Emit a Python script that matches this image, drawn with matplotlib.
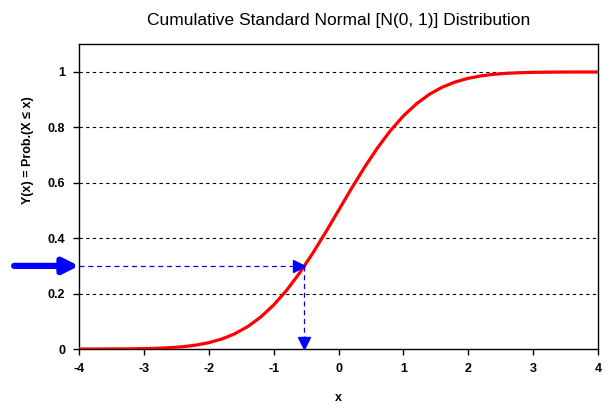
import matplotlib
matplotlib.use("Agg")
import matplotlib.pyplot as plt
from matplotlib.transforms import offset_copy

# values
x_vals = [-4.0, -3.8, -3.6, -3.4, -3.2, -3.0, -2.8, -2.6, -2.4, -2.2,
          -2.0, -1.8, -1.6, -1.4, -1.2, -1.0, -0.8, -0.6, -0.4, -0.2,
          0.0, 0.2, 0.4, 0.6, 0.8, 1.0, 1.2, 1.4, 1.6, 1.8,
          2.0, 2.2, 2.4, 2.6, 2.8, 3.0, 3.2, 3.4, 3.6, 3.8, 4.0]
y_vals = [0.00003, 0.00007, 0.00016, 0.00034, 0.00069, 0.00135, 0.00256, 0.00466, 0.0082, 0.0139,
          0.0228, 0.0359, 0.0548, 0.0808, 0.1151, 0.1587, 0.2119, 0.2743, 0.3446, 0.4207,
          0.5, 0.5793, 0.6554, 0.7257, 0.7881, 0.8413, 0.8849, 0.9192, 0.9452, 0.9641,
          0.9772, 0.9861, 0.9918, 0.9953, 0.9974, 0.99865, 0.99931, 0.99966, 0.99984, 0.99993, 0.99997]

# the marked probability and its quantile
p_mark = 0.3
x_mark = -0.5244

x_ticks = [-4, -3, -2, -1, 0, 1, 2, 3, 4]
y_ticks = [0, 0.2, 0.4, 0.6, 0.8, 1]
y_tick_labels = ["0", "0.2", "0.4", "0.6", "0.8", "1"]

plt.rcParams['font.family'] = ['Liberation Sans', 'DejaVu Sans']

fig = plt.figure(figsize=(6.11, 4.16), dpi=100)
ax = fig.add_axes([79/611, 67/416, 519/611, 305/416])

ax.set_xlim(-4, 4)
ax.set_ylim(0, 1.101)

for yv in y_ticks[1:]:
    ax.axhline(yv, color='black', lw=0.8, ls=(0, (3, 3)), zorder=1)

ax.plot(x_vals, y_vals, color='red', lw=2.3, zorder=3)

# dashed guide lines
ax.plot([-4, x_mark], [p_mark, p_mark], color='blue', lw=0.9, ls=(0, (4, 3)), zorder=4)
ax.plot([x_mark, x_mark], [p_mark, 0], color='blue', lw=0.9, ls=(0, (4, 3)), zorder=4)

tr_left = offset_copy(ax.transData, fig=fig, x=-5.5, y=0, units='dots')
ax.plot([x_mark], [p_mark], marker='>', ms=8, color='blue', transform=tr_left,
        clip_on=False, zorder=5)
tr_up = offset_copy(ax.transData, fig=fig, x=0, y=6, units='dots')
ax.plot([x_mark], [0], marker='v', ms=9, color='blue', transform=tr_up,
        clip_on=False, zorder=5)

# big arrow from outside the plot area
ax.annotate("", xy=(-4, p_mark), xycoords='data',
            xytext=(-0.125, p_mark), textcoords=('axes fraction', 'data'),
            arrowprops=dict(arrowstyle='-|>,head_length=0.9,head_width=0.45',
                            color='blue', lw=4.5, shrinkA=0, shrinkB=0),
            annotation_clip=False, zorder=6)

ax.set_xticks(x_ticks)
ax.set_xticklabels([str(t) for t in x_ticks])
ax.set_yticks(y_ticks)
ax.set_yticklabels(y_tick_labels)
ax.tick_params(direction='out', length=4, width=1, labelsize=9, pad=6)
for lab in ax.get_xticklabels() + ax.get_yticklabels():
    lab.set_fontweight('bold')

for s in ax.spines.values():
    s.set_linewidth(1)

fig.text(338.5/611, 1 - 20/416, "Cumulative Standard Normal [N(0, 1)] Distribution",
         fontsize=12.5, ha='center', va='center')
ax.set_xlabel("x", fontsize=9, fontweight='bold', labelpad=12)
ax.set_ylabel("Y(x) = Prob.(X \u2264 x)", fontsize=9, fontweight='bold')
ax.yaxis.set_label_coords(-0.087, 0.652)

fig.savefig("out.png", dpi=100)
